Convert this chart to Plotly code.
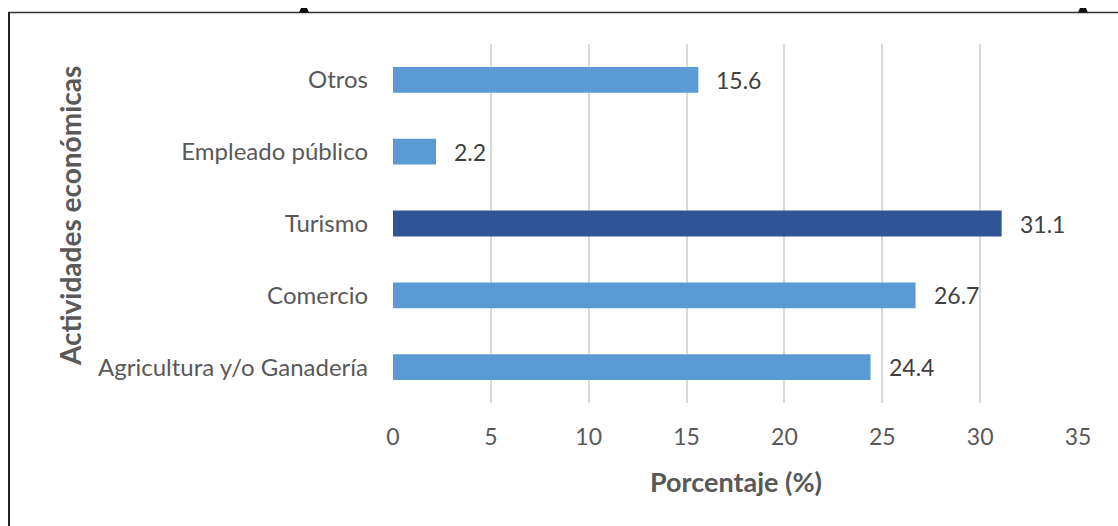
import plotly.graph_objects as go

categories = ["Agricultura y/o Ganadería", "Comercio", "Turismo", "Empleado público", "Otros"]
values = [24.4, 26.7, 31.1, 2.2, 15.6]
bar_colors = ["#5B9BD5", "#5B9BD5", "#2F5597", "#5B9BD5", "#5B9BD5"]
x_ticks = [0, 5, 10, 15, 20, 25, 30, 35]
x_title = "Porcentaje (%)"
y_title = "Actividades económicas"

W, H = 1118, 526
L, R, T, B = 393, 40, 44, 123
pw, ph = W - L - R, H - T - B

def px_x(p):
    return (p - L) / pw

def px_y(p):
    return (H - B - p) / ph

FONT = "Lato"

fig = go.Figure()
fig.add_trace(go.Bar(
    y=categories, x=values, orientation="h",
    marker=dict(color=bar_colors, line=dict(width=0)),
    width=0.36, hoverinfo="skip",
))

for c, v in zip(categories, values):
    fig.add_annotation(x=v, y=c, text=f"{v:.1f}", showarrow=False,
                       xanchor="left", xshift=16,
                       font=dict(family=FONT, size=23, color="#404040"))

fig.add_annotation(xref="paper", yref="paper", x=0.5, y=px_y(481),
                   text=f"<b>{x_title}</b>", showarrow=False,
                   xanchor="center", yanchor="middle",
                   font=dict(family=FONT, size=27, color="#595959"))
fig.add_annotation(xref="paper", yref="paper", x=px_x(70), y=px_y(216),
                   text=f"<b>{y_title}</b>", showarrow=False, textangle=-90,
                   xanchor="center", yanchor="middle",
                   font=dict(family=FONT, size=28, color="#595959"))

shapes = [
    dict(type="line", xref="paper", yref="paper", x0=px_x(8.5), x1=px_x(W + 2),
         y0=px_y(12.5), y1=px_y(12.5), line=dict(color="#333333", width=1.5)),
    dict(type="line", xref="paper", yref="paper", x0=px_x(9), x1=px_x(9),
         y0=px_y(12), y1=px_y(H + 2), line=dict(color="#222222", width=2)),
]
for cx in (304, 1083):
    shapes.append(dict(
        type="path", xref="paper", yref="paper",
        path=f"M {px_x(cx-5)},{px_y(12.5)} L {px_x(cx-3)},{px_y(8)} L {px_x(cx+3)},{px_y(8)} L {px_x(cx+5)},{px_y(12.5)} Z",
        fillcolor="#111111", line=dict(width=0)))

fig.update_layout(
    width=W, height=H,
    margin=dict(l=L, r=R, t=T, b=B, pad=0),
    paper_bgcolor="white", plot_bgcolor="white",
    showlegend=False, bargap=0.64,
    shapes=shapes,
    xaxis=dict(range=[0, 35], tickvals=x_ticks, showgrid=True,
               gridcolor="#D9D9D9", gridwidth=2, zeroline=False,
               showline=False, ticks="", ticklabelstandoff=18,
               tickfont=dict(family=FONT, size=23, color="#595959"),
               fixedrange=True),
    yaxis=dict(categoryorder="array", categoryarray=categories,
               showgrid=False, zeroline=False, showline=False, ticks="",
               ticklabelstandoff=24,
               tickfont=dict(family=FONT, size=24, color="#595959"),
               fixedrange=True),
)

fig.write_html("out.html", config=dict(displayModeBar=False))
